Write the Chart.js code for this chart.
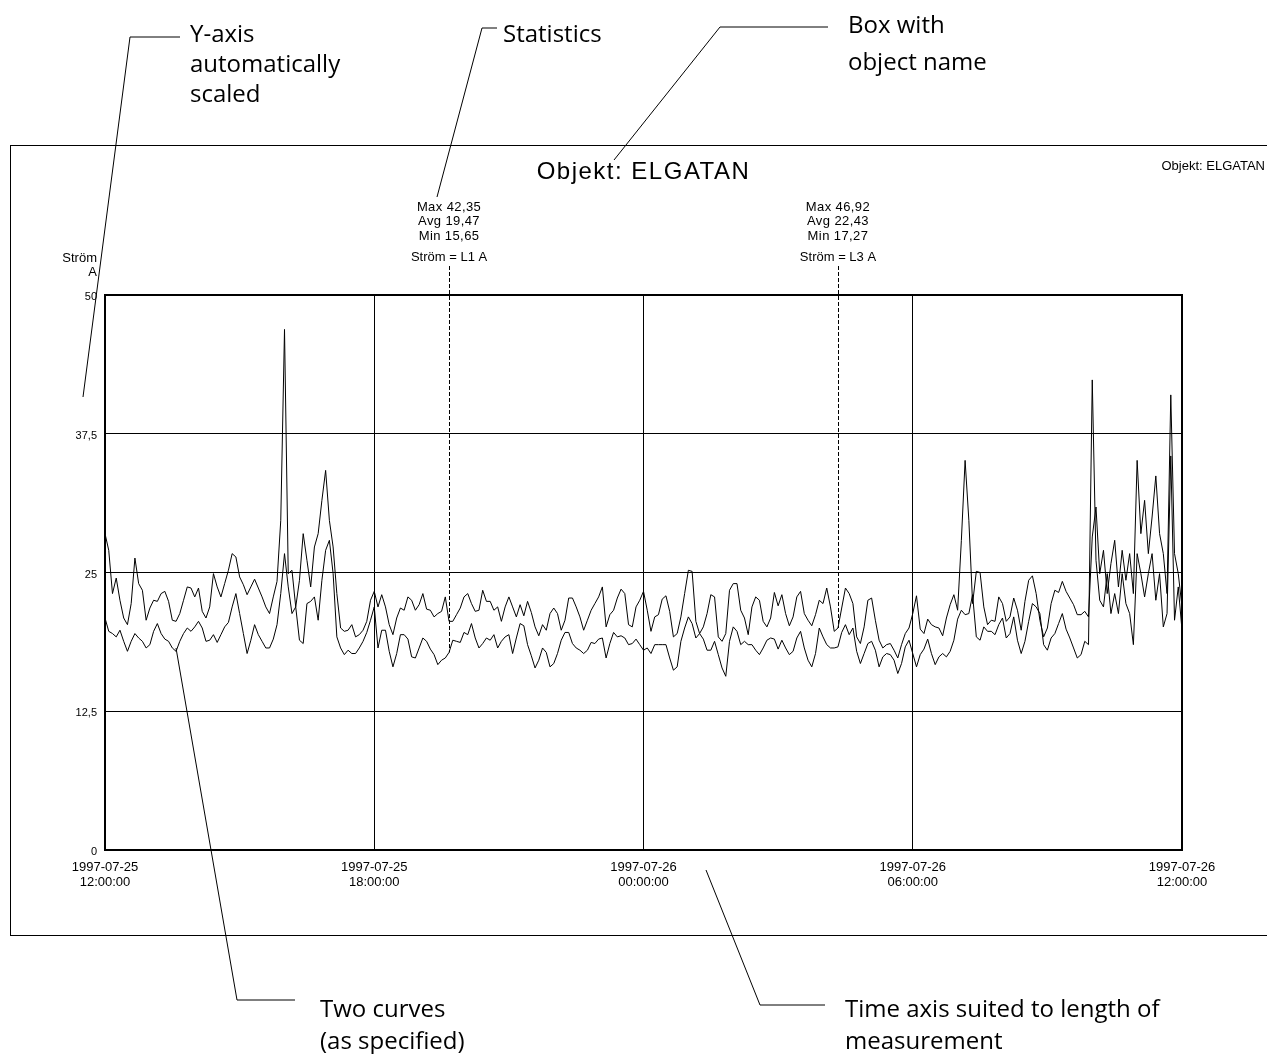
<!DOCTYPE html>
<html>
<head>
<meta charset="utf-8">
<title>Objekt: ELGATAN</title>
<script src="https://cdn.jsdelivr.net/npm/chart.js@4.4.1/dist/chart.umd.min.js"></script>
<style>
  body { margin: 0; background: #fff; }
  #page { position: relative; width: 1267px; height: 1054px; overflow: hidden; }
  #myChart { position: absolute; left: 0; top: 0; }
  #frame { position: absolute; left: 10px; top: 145px; width: 1300px; height: 789px; border: 1px solid #000; }
  #leaders { position: absolute; left: 0; top: 0; }
  .note { position: absolute; font-family: 'Open Sans', sans-serif; font-size: 24px; line-height: 26px; color: #000; white-space: nowrap; }
</style>
</head>
<body>
<div id="page">
  <div id="frame"></div>
  <canvas id="myChart" width="1267" height="1054"></canvas>
  <svg id="leaders" width="1267" height="1054" stroke="#000" stroke-width="1" fill="none">
    <polyline points="180,37 130,37 83,397" />
    <polyline points="497,28 482,28 437,197" />
    <polyline points="828,27 720,27 614,160" />
    <polyline points="295,1000 237,1000 176,648" />
    <polyline points="825,1005 760,1005 706,870" />
  </svg>
  <div class="note" style="left:190px;top:20px">Y-axis</div>
  <div class="note" style="left:190px;top:50px">automatically</div>
  <div class="note" style="left:190px;top:80px">scaled</div>
  <div class="note" style="left:503px;top:20px">Statistics</div>
  <div class="note" style="left:848px;top:11px">Box with</div>
  <div class="note" style="left:848px;top:48px">object name</div>
  <div class="note" style="left:320px;top:995px">Two curves</div>
  <div class="note" style="left:320px;top:1027px">(as specified)</div>
  <div class="note" style="left:845px;top:995px">Time axis suited to length of</div>
  <div class="note" style="left:845px;top:1027px">measurement</div>
</div>
<script>
// measurement 1997-07-25 12:00 -> 1997-07-26 12:00, one value every 5 minutes
const stepMinutes = 5;

// Ström L1 (A), one row per hour
const currentL1 = [
  20.9, 19.7, 19.5, 19.2, 19.8, 18.8, 17.9, 18.8, 19.5, 19.1, 18.8, 18.2,
  18.5, 19.7, 20.4, 19.5, 19.0, 18.8, 18.2, 17.9, 18.8, 19.5, 20.0, 19.7,
  20.1, 20.6, 20.0, 18.8, 18.9, 19.4, 18.7, 19.4, 20.1, 20.5, 21.9, 23.1,
  21.3, 19.5, 17.7, 18.9, 20.3, 19.4, 18.8, 18.2, 18.2, 19.0, 20.3, 23.1,
  26.7, 23.7, 21.3, 21.9, 18.9, 18.6, 22.2, 22.4, 22.8, 20.7, 24.3, 27.0,
  27.9, 24.9, 19.2, 18.2, 17.6, 18.0, 17.7, 17.7, 18.2, 18.8, 19.6, 20.7,
  21.9, 18.2, 19.8, 19.8, 17.9, 16.5, 17.7, 19.4, 19.4, 19.0, 17.4, 17.3,
  18.2, 19.1, 18.8, 18.1, 17.6, 16.7, 17.1, 17.3, 17.8, 18.9, 18.8, 18.7,
  19.6, 19.4, 20.4, 19.1, 18.2, 18.6, 19.1, 18.9, 19.4, 18.2, 18.8, 19.2,
  19.4, 17.7, 19.1, 20.4, 20.2, 18.5, 17.5, 16.4, 17.1, 18.2, 17.8, 16.5,
  16.8, 17.7, 18.9, 19.6, 19.6, 18.6, 18.2, 18.0, 17.7, 18.0, 18.7, 18.6,
  19.0, 19.1, 17.3, 18.6, 19.6, 19.2, 19.3, 19.1, 18.5, 18.6, 19.0, 18.5,
  18.0, 18.2, 17.7, 18.5, 18.5, 18.5, 18.5, 17.3, 16.2, 16.5, 18.8, 20.0,
  21.0, 20.4, 19.1, 19.5, 19.0, 18.0, 18.0, 18.8, 17.6, 16.4, 15.65, 18.8,
  20.1, 19.7, 18.5, 18.8, 18.5, 18.5, 18.0, 17.6, 18.2, 18.9, 19.1, 19.0,
  18.1, 18.9, 18.2, 17.6, 17.9, 19.1, 19.7, 18.2, 17.1, 16.5, 17.7, 20.0,
  19.2, 18.5, 18.2, 18.2, 18.3, 19.6, 20.3, 19.4, 20.0, 17.9, 16.8, 17.7,
  18.6, 18.8, 18.0, 16.5, 17.4, 17.7, 17.6, 17.1, 15.9, 16.8, 18.3, 18.9,
  17.7, 16.5, 17.6, 18.1, 19.0, 17.7, 16.7, 17.4, 17.7, 17.4, 17.9, 18.9,
  20.8, 21.6, 21.2, 21.3, 23.0, 19.2, 18.9, 20.1, 19.7, 19.7, 19.4, 20.3,
  20.9, 19.1, 19.5, 21.0, 18.9, 17.7, 18.8, 20.6, 22.2, 21.9, 21.3, 18.5,
  18.0, 19.1, 19.5, 20.4, 21.3, 19.9, 19.1, 18.2, 17.3, 17.6, 18.8, 18.5,
  42.35, 26.1, 22.5, 21.9, 24.9, 21.3, 23.1, 21.3, 24.9, 22.2, 21.3, 18.5,
  26.7, 24.9, 22.8, 24.9, 26.7, 22.5, 24.9, 20.1, 21.3, 35.5, 20.7, 23.7,
  19.8
];

// Ström L3 (A)
const currentL3 = [
  28.5, 27.0, 23.1, 24.5, 22.5, 20.9, 20.3, 22.2, 26.3, 24.0, 23.4, 20.7,
  21.8, 22.5, 22.4, 23.1, 23.3, 22.4, 20.7, 20.6, 21.3, 22.5, 23.7, 23.6,
  22.8, 23.6, 21.5, 20.9, 21.9, 24.9, 23.7, 22.8, 24.0, 25.2, 26.7, 26.4,
  24.6, 23.9, 23.0, 23.7, 24.4, 23.6, 22.8, 21.9, 21.3, 22.8, 24.2, 29.7,
  46.9, 24.9, 25.2, 21.9, 24.3, 28.5, 26.1, 23.7, 27.3, 28.5, 31.5, 34.2,
  29.7, 27.3, 23.1, 20.0, 19.7, 19.8, 20.3, 19.2, 19.4, 19.8, 20.6, 22.5,
  23.3, 21.9, 23.0, 21.9, 20.3, 19.4, 20.9, 21.8, 21.6, 22.8, 22.5, 21.6,
  22.1, 23.1, 21.7, 21.6, 21.0, 21.3, 21.5, 22.8, 20.6, 20.6, 21.2, 21.8,
  22.8, 23.1, 22.2, 21.5, 21.6, 23.4, 22.4, 22.4, 21.6, 21.9, 20.6, 21.9,
  22.8, 21.9, 21.0, 22.1, 21.1, 22.4, 21.4, 20.1, 19.3, 20.3, 19.8, 21.3,
  21.8, 21.3, 19.8, 20.7, 22.7, 22.7, 21.9, 21.0, 19.8, 20.7, 21.6, 22.2,
  22.8, 23.7, 20.1, 21.2, 21.6, 22.7, 23.5, 23.1, 20.3, 20.1, 21.9, 22.5,
  23.3, 21.6, 19.7, 21.0, 21.2, 22.6, 22.9, 21.5, 19.2, 19.5, 21.0, 23.1,
  25.2, 25.1, 20.6, 19.5, 20.1, 21.3, 23.0, 22.8, 19.2, 18.8, 19.5, 23.4,
  24.0, 24.0, 21.6, 20.9, 19.4, 21.9, 22.8, 22.5, 20.6, 20.1, 20.9, 23.2,
  22.0, 23.0, 21.3, 20.2, 21.0, 22.8, 23.3, 21.3, 20.7, 20.2, 21.2, 22.5,
  22.2, 23.6, 21.9, 19.7, 20.0, 21.8, 23.6, 23.1, 22.2, 19.2, 18.6, 20.1,
  22.5, 22.7, 20.7, 18.9, 18.2, 18.5, 18.6, 18.0, 17.3, 18.5, 19.5, 20.0,
  21.3, 22.9, 19.9, 19.5, 20.8, 20.3, 20.1, 20.0, 19.3, 20.9, 22.1, 23.0,
  21.6, 27.9, 35.1, 29.7, 22.2, 25.1, 25.0, 21.9, 20.3, 20.7, 20.6, 22.8,
  22.2, 20.6, 21.0, 22.7, 21.6, 19.8, 22.4, 24.3, 24.7, 23.1, 20.7, 19.2,
  20.0, 22.2, 23.4, 23.2, 24.2, 23.3, 22.7, 22.1, 21.2, 21.2, 21.5, 21.0,
  28.2, 30.9, 24.9, 27.0, 23.1, 25.8, 27.9, 23.7, 27.0, 24.3, 26.7, 23.1,
  35.1, 28.5, 31.5, 26.7, 30.0, 33.7, 28.5, 26.7, 23.1, 41.0, 26.7, 24.9,
  21.9
];

const xTickMinutes = [0, 360, 720, 1080, 1440];
const xTickDates = ['1997-07-25', '1997-07-25', '1997-07-26', '1997-07-26', '1997-07-26'];
const xTickTimes = ['12:00:00', '18:00:00', '00:00:00', '06:00:00', '12:00:00'];
const yTickValues = [0, 12.5, 25, 37.5, 50];
const yTickLabels = ['0', '12,5', '25', '37,5', '50'];

const seriesNames = ['Ström = L1 A', 'Ström = L3 A'];
const statMinutes = [460, 980];
const statTexts = [
  ['Max 42,35', 'Avg 19,47', 'Min 15,65'],
  ['Max 46,92', 'Avg 22,43', 'Min 17,27'],
];
const objectName = 'Objekt: ELGATAN';

const chartFont = '"Liberation Sans", Arial, sans-serif';

function toPoints(values) {
  return values.map((v, i) => ({ x: i * stepMinutes, y: v }));
}

// title, statistics boxes, axis unit and the heavy plot frame
const annotate = {
  id: 'annotate',
  afterDatasetsDraw(chart) {
    const ctx = chart.ctx;
    const a = chart.chartArea;
    const xs = chart.scales.x;
    const ys = chart.scales.y;
    const series = [currentL1, currentL3];
    ctx.save();

    ctx.strokeStyle = '#000';
    ctx.lineWidth = 2;
    ctx.strokeRect(a.left, a.top, a.right - a.left, a.bottom - a.top);

    ctx.fillStyle = '#000';
    ctx.textBaseline = 'middle';

    ctx.textAlign = 'center';
    ctx.font = '24px ' + chartFont;
    ctx.letterSpacing = '1.5px';
    ctx.fillText(objectName, (a.left + a.right) / 2, 172);
    ctx.letterSpacing = '0px';

    ctx.textAlign = 'right';
    ctx.font = '13px ' + chartFont;
    ctx.fillText(objectName, 1265, 166);

    ctx.fillText('Ström', 97, 258);
    ctx.fillText('A', 97, 272);

    ctx.textAlign = 'center';
    for (let s = 0; s < 2; s++) {
      const cx = xs.getPixelForValue(statMinutes[s]);
      ctx.font = '13px ' + chartFont;
      ctx.letterSpacing = '0.4px';
      statTexts[s].forEach((t, i) => ctx.fillText(t, cx, 207 + i * 14.5));
      ctx.letterSpacing = '0px';
      ctx.fillText(seriesNames[s], cx, 257);

      const v = series[s][statMinutes[s] / stepMinutes];
      ctx.beginPath();
      ctx.setLineDash([4, 2]);
      ctx.lineWidth = 1;
      ctx.moveTo(Math.round(cx) + 0.5, 266);
      ctx.lineTo(Math.round(cx) + 0.5, ys.getPixelForValue(v));
      ctx.stroke();
    }
    ctx.restore();
  },
};

function draw_chart() {
  const data = {
    datasets: [
      { label: seriesNames[0], data: toPoints(currentL1), borderColor: '#000', borderWidth: 1, pointRadius: 0, tension: 0 },
      { label: seriesNames[1], data: toPoints(currentL3), borderColor: '#000', borderWidth: 1, pointRadius: 0, tension: 0 },
    ],
  };

  const config = {
    type: 'line',
    data: data,
    options: {
      responsive: false,
      animation: false,
      devicePixelRatio: 1,
      layout: { padding: { left: 10, right: 85, top: 295, bottom: 150 } },
      plugins: {
        legend: { display: false },
        title: { display: false },
        tooltip: { enabled: false },
      },
      scales: {
        x: {
          type: 'linear',
          min: 0,
          max: 1440,
          afterBuildTicks: (axis) => { axis.ticks = xTickMinutes.map((v) => ({ value: v })); },
          afterFit: (axis) => { axis.height = 54; },
          ticks: {
            autoSkip: false,
            maxRotation: 0,
            padding: 10,
            color: '#000',
            font: { family: chartFont, size: 13, lineHeight: 1.15 },
            callback: (v, i) => [xTickDates[i], xTickTimes[i]],
          },
          grid: { color: '#000', lineWidth: 1, drawTicks: false },
          border: { display: false },
        },
        y: {
          min: 0,
          max: 50,
          afterBuildTicks: (axis) => { axis.ticks = yTickValues.map((v) => ({ value: v })); },
          afterFit: (axis) => { axis.width = 95; },
          ticks: {
            padding: 8,
            labelOffset: 2,
            color: '#000',
            font: { family: chartFont, size: 11 },
            callback: (v, i) => yTickLabels[i],
          },
          grid: { color: '#000', lineWidth: 1, drawTicks: false },
          border: { display: false },
        },
      },
    },
    plugins: [annotate],
  };

  const myChart = new Chart(document.getElementById('myChart'), config);
}

draw_chart();
</script>
</body>
</html>
